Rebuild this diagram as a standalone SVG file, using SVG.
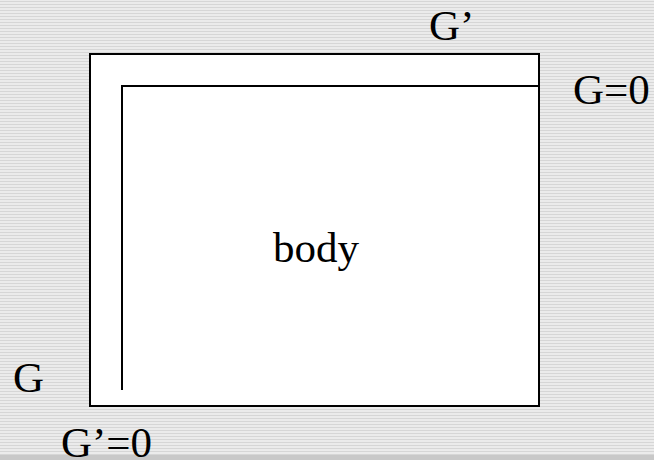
<svg xmlns="http://www.w3.org/2000/svg" width="654" height="460" viewBox="0 0 654 460">
<style>
.t{font-family:"Liberation Serif","Times New Roman",serif;font-size:43px;fill:#000}
.ln{fill:none;stroke:#000;stroke-width:2}
</style>
<defs>
<pattern id="bg" width="8" height="3" patternUnits="userSpaceOnUse">
<rect width="8" height="3" fill="#ebebeb"/>
<rect y="1" width="8" height="1" fill="#d6d6d6"/>
</pattern>
</defs>
<rect width="654" height="460" fill="url(#bg)"/>
<rect y="455" width="654" height="5" fill="#c8c8c8"/>
<g id="body">
<rect class="ln" x="90" y="54" width="449" height="352" style="fill:#fff"/>
<text class="t" x="273" y="262">body</text>
</g>
<g id="connectors">
<polyline class="ln" points="538,86 122,86 122,390"/>
</g>
<g id="labels">
<text class="t" x="429" y="40">G’</text>
<text class="t" x="573" y="104">G=0</text>
<text class="t" x="13" y="392">G</text>
<text class="t" x="61" y="457">G’=0</text>
</g>
</svg>
